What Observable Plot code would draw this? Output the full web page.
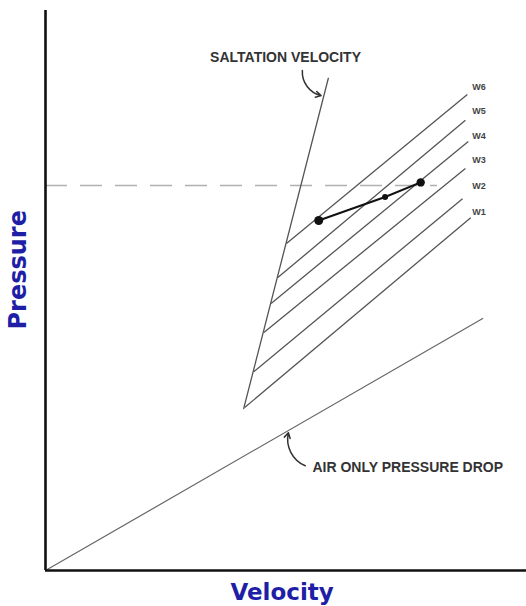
<!DOCTYPE html>
<html>
<head>
<meta charset="utf-8">
<script src="https://cdn.jsdelivr.net/npm/d3@7"></script>
<script src="https://cdn.jsdelivr.net/npm/@observablehq/plot@0.6"></script>
<style>
  html, body { margin: 0; padding: 0; background: #fff; }
  #chart svg { display: block; }
</style>
</head>
<body>
<div id="chart"></div>
<script>
// ---- data (in chart units: velocity 0–100, pressure 0–100) ----
const wNames   = ["W1", "W2", "W3", "W4", "W5", "W6"];
const wStartV  = [41.4, 43.3, 45.4, 46.9, 48.3, 50.1];
const wStartP  = [29.1, 35.5, 42.5, 47.7, 52.3, 58.4];
const wEndV    = [88.4, 86.7, 87.3, 87.9, 87.3, 87.7];
const wEndP    = [63.0, 66.4, 71.8, 76.6, 80.4, 85.0];
const wLabelP  = [64.0, 68.6, 73.2, 77.5, 82.0, 86.4];
const wLabelV  = 88.7;

const saltationV = [41.2, 58.8];
const saltationP = [28.9, 87.9];

const airV = [0, 90.9];
const airP = [0, 45.0];

const opV = [56.8, 70.6, 78.0];
const opP = [62.5, 66.7, 69.3];
const opR = [4.5, 3, 4.2];

const designP = 68.75;
const designV = [0, 81.5];

const saltLabel = {text: "SALTATION VELOCITY", v: 49.9, p: 91.6};
const saltArrow = {v1: 53.4, p1: 89.3, v2: 57.3, p2: 84.8};
const airLabel = {text: "AIR ONLY PRESSURE DROP", v: 55.5, p: 18.4};
const airArrow = {v1: 54.0, p1: 18.7, v2: 50.5, p2: 24.6};

const xTitle = {text: "Velocity", v: 49.2, p: -3.9};
const yTitle = {text: "Pressure", v: -5.6, p: 53.7};

// ---- derived tables ----
const wLines = wNames.map((n, i) => ({n, x1: wStartV[i], y1: wStartP[i], x2: wEndV[i], y2: wEndP[i], ly: wLabelP[i]}));
const saltation = saltationV.map((v, i) => ({v, p: saltationP[i]}));
const air = airV.map((v, i) => ({v, p: airP[i]}));
const ops = opV.map((v, i) => ({v, p: opP[i], r: opR[i]}));

const labelFont = "Liberation Sans, Arial, sans-serif";
const axisFont = "DejaVu Sans, Verdana, sans-serif";

const chart = Plot.plot({
  width: 526,
  height: 606,
  marginLeft: 45,
  marginRight: 0,
  marginTop: 10,
  marginBottom: 36,
  x: {domain: [0, 100], axis: null},
  y: {domain: [0, 100], axis: null},
  r: {type: "identity"},
  style: {background: "#fff"},
  marks: [
    // dashed design-pressure line
    Plot.ruleY([designP], {x1: designV[0], x2: designV[1], stroke: "#b0b0b0", strokeWidth: 1.5, strokeDasharray: "22,13"}),
    // air only line
    Plot.line(air, {x: "v", y: "p", stroke: "#666", strokeWidth: 1.2}),
    // saltation velocity line
    Plot.line(saltation, {x: "v", y: "p", stroke: "#555", strokeWidth: 1.3}),
    // solids loading lines
    Plot.link(wLines, {x1: "x1", y1: "y1", x2: "x2", y2: "y2", stroke: "#555", strokeWidth: 1.3}),
    Plot.text(wLines, {x: wLabelV, y: "ly", text: "n", textAnchor: "start", fontSize: 9, fontWeight: "bold", fill: "#444", fontFamily: labelFont}),
    // operating line
    Plot.line(ops, {x: "v", y: "p", stroke: "#111", strokeWidth: 2}),
    Plot.dot(ops, {x: "v", y: "p", r: "r", fill: "#111", stroke: null}),
    // annotations
    Plot.text([saltLabel], {x: "v", y: "p", text: "text", fontSize: 14, fontWeight: "bold", fill: "#333", fontFamily: labelFont}),
    Plot.arrow([saltArrow], {x1: "v1", y1: "p1", x2: "v2", y2: "p2", bend: -40, stroke: "#333", strokeWidth: 1.5, headLength: 6}),
    Plot.text([airLabel], {x: "v", y: "p", text: "text", textAnchor: "start", fontSize: 14, fontWeight: "bold", fill: "#333", fontFamily: labelFont}),
    Plot.arrow([airArrow], {x1: "v1", y1: "p1", x2: "v2", y2: "p2", bend: 40, stroke: "#333", strokeWidth: 1.5, headLength: 6}),
    // axes
    Plot.ruleX([0], {stroke: "#111", strokeWidth: 2.6}),
    Plot.ruleY([0], {stroke: "#111", strokeWidth: 2.6}),
    // axis titles
    Plot.text([xTitle], {x: "v", y: "p", text: "text", fontSize: 23, fontWeight: "bold", fill: "#1e1ea6", fontFamily: axisFont}),
    Plot.text([yTitle], {x: "v", y: "p", text: "text", rotate: -90, fontSize: 24, fontWeight: "bold", fill: "#1e1ea6", fontFamily: axisFont})
  ]
});
document.getElementById("chart").append(chart);
</script>
</body>
</html>
